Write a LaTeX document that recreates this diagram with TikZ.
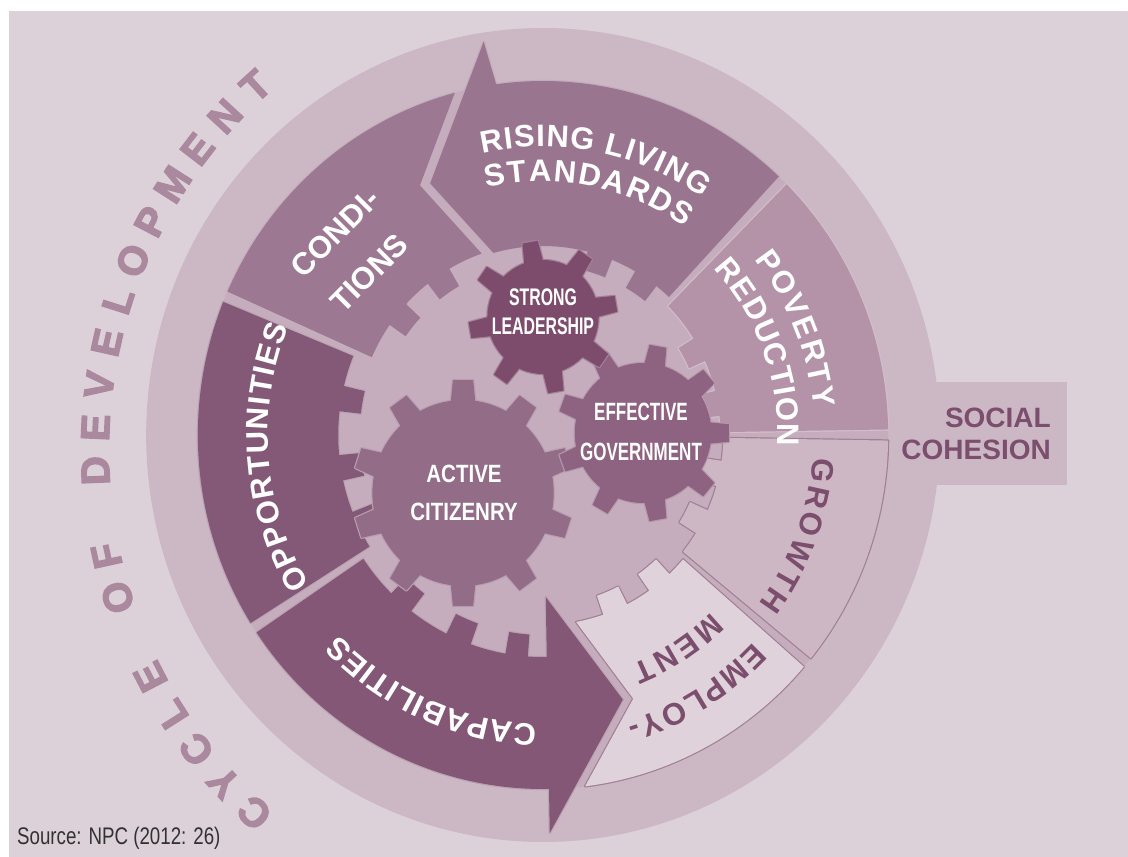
\documentclass[tikz,border=0pt]{standalone}
\usepackage{fontspec}
\usepackage{graphicx}
\setmainfont{Liberation Sans}
\newfontfamily\lsans{Liberation Sans}
\newfontfamily\heavysans[FakeBold=3.5]{Liberation Sans Bold}
\usetikzlibrary{decorations.text}

\definecolor{bgc}{RGB}{221,209,217}
\definecolor{ringc}{RGB}{204,184,196}
\definecolor{cenc}{RGB}{198,173,189}
\definecolor{oppc}{RGB}{132,89,119}
\definecolor{capc}{RGB}{131,87,117}
\definecolor{rlsc}{RGB}{154,117,143}
\definecolor{condc}{RGB}{157,120,146}
\definecolor{povc}{RGB}{180,146,168}
\definecolor{growc}{RGB}{206,183,197}
\definecolor{empc}{RGB}{223,210,218}
\definecolor{edgec}{RGB}{160,128,149}
\definecolor{slc}{RGB}{125,76,108}
\definecolor{egc}{RGB}{142,98,129}
\definecolor{acc}{RGB}{147,108,136}
\definecolor{darktxt}{RGB}{124,78,110}
\definecolor{cyctxt}{RGB}{170,137,158}
\definecolor{srctxt}{RGB}{50,50,50}

\newcommand{\segfont}{\lsans\bfseries\fontsize{31}{36}\selectfont}

% style, angle, half width (deg), inner radius, outer radius
\newcommand{\segtooth}[5]{%
  \path[#1] ({#2-#3}:#4) arc[start angle={#2-#3}, end angle={#2+#3}, radius=#4]
    -- ({#2+#3}:#5) arc[start angle={#2+#3}, end angle={#2-#3}, radius=#5] -- cycle;}

% style, x, y, body radius, tooth radius, teeth, offset, tooth half width
\newcommand{\gearshape}[8]{%
  \begin{scope}[shift={(#2,#3)}]
    \path[#1] (0,0) circle[radius=#4];
    \foreach \k in {1,...,#6}{
      \path[#1, rotate={#7+360/#6*\k}] (#4-6,-#8) -- (#5,-#8*0.8) -- (#5,#8*0.8) -- (#4-6,#8) -- cycle;
    }
  \end{scope}}

% all segment shapes (styles set by the enclosing scope)
\newcommand{\segshapes}{%
  % Poverty reduction
  \path[povseg] (0.9:182) -- (0.9:354) arc[start angle=0.9,end angle=45.1,radius=354]
     -- (45.1:182) arc[start angle=45.1,end angle=0.9,radius=182] -- cycle;
  \segtooth{povseg}{10}{4}{164}{184}
  \segtooth{povseg}{28}{4}{164}{184}
  % Rising living standards (arrow)
  \path[rlsseg] (46.9:189) -- (46.9:354) arc[start angle=46.9,end angle=97.8,radius=354]
     -- (98.8:398) -- (114.7:277) -- (105.6:189) arc[start angle=105.6,end angle=46.9,radius=189] -- cycle;
  \segtooth{rlsseg}{56}{4}{170}{191}
  \segtooth{rlsseg}{72}{4}{170}{191}
  % Conditions (notched)
  \path[condseg] (104.8:354) arc[start angle=104.8,end angle=156.1,radius=354]
     -- (156.1:192) arc[start angle=156.1,end angle=109.1,radius=192] -- (-126.2,249.6) -- cycle;
  \segtooth{condseg}{124}{4}{172}{194}
  \segtooth{condseg}{141}{4}{172}{194}
  % Opportunities
  \path[oppseg] (157.9:210) -- (157.9:354) arc[start angle=157.9,end angle=212.1,radius=354]
     -- (212.1:210) arc[start angle=212.1,end angle=157.9,radius=210] -- cycle;
  \segtooth{oppseg}{170}{3.5}{188}{212}
  \segtooth{oppseg}{189}{3.5}{188}{212}
  \segtooth{oppseg}{205}{3.5}{188}{212}
  % Capabilities (arrow)
  \path[capseg] (213.9:222) -- (213.9:354) arc[start angle=213.9,end angle=271,radius=354]
     -- (271:398) -- (287.2:277) -- (271:162) -- (271:222) arc[start angle=271,end angle=213.9,radius=222] -- cycle;
  \segtooth{capseg}{229}{3.5}{200}{224}
  \segtooth{capseg}{247}{3.5}{200}{224}
  \segtooth{capseg}{263}{3}{200}{224}
  % Employment (notched)
  \path[empseg] (-40.9:354) arc[start angle=-40.9,end angle=-83,radius=354]
     -- (92.6,-263.7) -- (-79.7:190) arc[start angle=-79.7,end angle=-40.9,radius=190] -- cycle;
  \segtooth{empseg}{-51}{4}{170}{191}
  \segtooth{empseg}{-67}{4}{170}{191}
  % Growth
  \path[growseg] (-39.1:185) -- (-39.1:354) arc[start angle=-39.1,end angle=-0.9,radius=354]
     -- (-0.9:185) arc[start angle=-0.9,end angle=-39.1,radius=185] -- cycle;
  \segtooth{growseg}{-12}{4}{165}{187}
  \segtooth{growseg}{-28}{4}{165}{187}
}

\tikzset{
  edgepass/.style={line width=2.4, line join=round},
  gtxt/.style={text=white, inner sep=0pt, font=\lsans\bfseries\fontsize{24}{24}\selectfont},
  gtxtb/.style={text=white, inner sep=0pt, font=\lsans\bfseries\fontsize{25}{25}\selectfont},
  straighttxt/.style={text=white, inner sep=0pt, font=\segfont},
  cyctext/.style={text=cyctxt, inner sep=0pt, font=\heavysans\fontsize{40}{40}\selectfont},
  sctext/.style={text=darktxt, inner sep=0pt, font=\lsans\bfseries\fontsize{28}{28}\selectfont},
  srcstyle/.style={text=srctxt, inner sep=0pt, font=\lsans\fontsize{24}{24}\selectfont},
  arclabel/.style args={#1/#2}{decorate, decoration={text along path, text={|\segfont|#1}, text align={fit to path}, text color=#2}}
}

\begin{document}
\begin{tikzpicture}[x=1pt,y=1pt]
\useasboundingbox (-543,-422) rectangle (585,435);
\fill[white] (-543,-422) rectangle (585,435);
\fill[bgc] (-534,-422) rectangle (585,424);
% social cohesion box
\fill[ringc] (330,-50) rectangle (524,53);

\begin{scope}[xscale=0.975]
  \fill[ringc] (0,0) circle[radius=407];
  \fill[cenc] (0,0) circle[radius=354];

  % pass 1: edges
  \begin{scope}[
    povseg/.style={draw=white!40!povc, edgepass},
    rlsseg/.style={draw=white!40!rlsc, edgepass},
    condseg/.style={draw=white!40!condc, edgepass},
    oppseg/.style={draw=white!45!oppc, edgepass},
    capseg/.style={draw=white!45!capc, edgepass},
    empseg/.style={draw=edgec, edgepass},
    growseg/.style={draw=edgec, edgepass}]
    \segshapes
  \end{scope}
  % pass 2: fills
  \begin{scope}[
    povseg/.style={fill=povc},
    rlsseg/.style={fill=rlsc},
    condseg/.style={fill=condc},
    oppseg/.style={fill=oppc},
    capseg/.style={fill=capc},
    empseg/.style={fill=empc},
    growseg/.style={fill=growc}]
    \segshapes
  \end{scope}

  % gears (outline pass, then fill pass)
  \gearshape{draw=white!35!acc, edgepass}{-82}{-58}{93}{113}{10}{18}{13}
  \gearshape{fill=acc}{-82}{-58}{93}{113}{10}{18}{13}
  \gearshape{draw=white!35!egc, edgepass}{102.6}{2}{70}{88}{9}{0}{11}
  \gearshape{fill=egc}{102.6}{2}{70}{88}{9}{0}{11}
  \gearshape{draw=white!30!slc, edgepass}{0}{118}{57}{76}{8}{10}{10}
  \gearshape{fill=slc}{0}{118}{57}{76}{8}{10}{10}

  \node[gtxt] (sl1) at (0,138) {\scalebox{0.66}[1]{STRONG}};
  \node[gtxt] (sl2) at (0,109) {\scalebox{0.66}[1]{LEADERSHIP}};
  \node[gtxtb] (eg1) at (100.5,23) {\scalebox{0.68}[1]{EFFECTIVE}};
  \node[gtxtb] (eg2) at (100.5,-17) {\scalebox{0.68}[1]{GOVERNMENT}};
  \node[gtxtb] (ac1) at (-81,-39) {\scalebox{0.82}[1]{ACTIVE}};
  \node[gtxtb] (ac2) at (-81,-77) {\scalebox{0.82}[1]{CITIZENRY}};

  % segment labels
  \path[arclabel={RISING LIVING/white}] (102.5:288.5) arc[start angle=102.5,end angle=55.5,radius=288.5];
  \path[arclabel={STANDARDS/white}] (103.2:253.5) arc[start angle=103.2,end angle=55,radius=253.5];
  \path[arclabel={OPPORTUNITIES/white}] (212:282) arc[start angle=212,end angle=157.5,radius=282];
  \path[arclabel={CAPABILITIES/white}] (268.7:289) arc[start angle=268.7,end angle=223.7,radius=289];
  \path[arclabel={POVERTY/white}] (39:279) arc[start angle=39,end angle=5.5,radius=279];
  \path[arclabel={REDUCTION/white}] (43.5:241) arc[start angle=43.5,end angle=-2.5,radius=241];
  \path[arclabel={GROWTH/darktxt}] (-4.6:278) arc[start angle=-4.6,end angle=-37.4,radius=278];
  \path[arclabel={EMPLOY-/darktxt}] (-43.8:299) arc[start angle=-43.8,end angle=-73.4,radius=299];
  \path[arclabel={MENT/darktxt}] (-45.8:247) arc[start angle=-45.8,end angle=-68.6,radius=247];
  \node[straighttxt, rotate=45] (cond1) at (-213,202) {CONDI-};
  \node[straighttxt, rotate=45] (cond2) at (-178,162) {TIONS};
\end{scope}

% cycle of development
\begin{scope}[shift={(45,-15)}]
  \foreach \ch [count=\i from 0] in {C,Y,C,L,E,{},O,F,{},D,E,V,E,L,O,P,M,E,N,T} {
    \node[cyctext, rotate={227.4-\i*5-90}] (cyc\i) at ({227.4-\i*5}:493) {\ch};
  }
\end{scope}

\node[sctext, anchor=east] (soc1) at (508,17) {SOCIAL};
\node[sctext, anchor=east] (soc2) at (508,-15) {COHESION};

\node[srcstyle, anchor=west] (src) at (-526,-403) {\scalebox{0.78}[1]{Source: NPC (2012: 26)}};
\end{tikzpicture}
\end{document}
